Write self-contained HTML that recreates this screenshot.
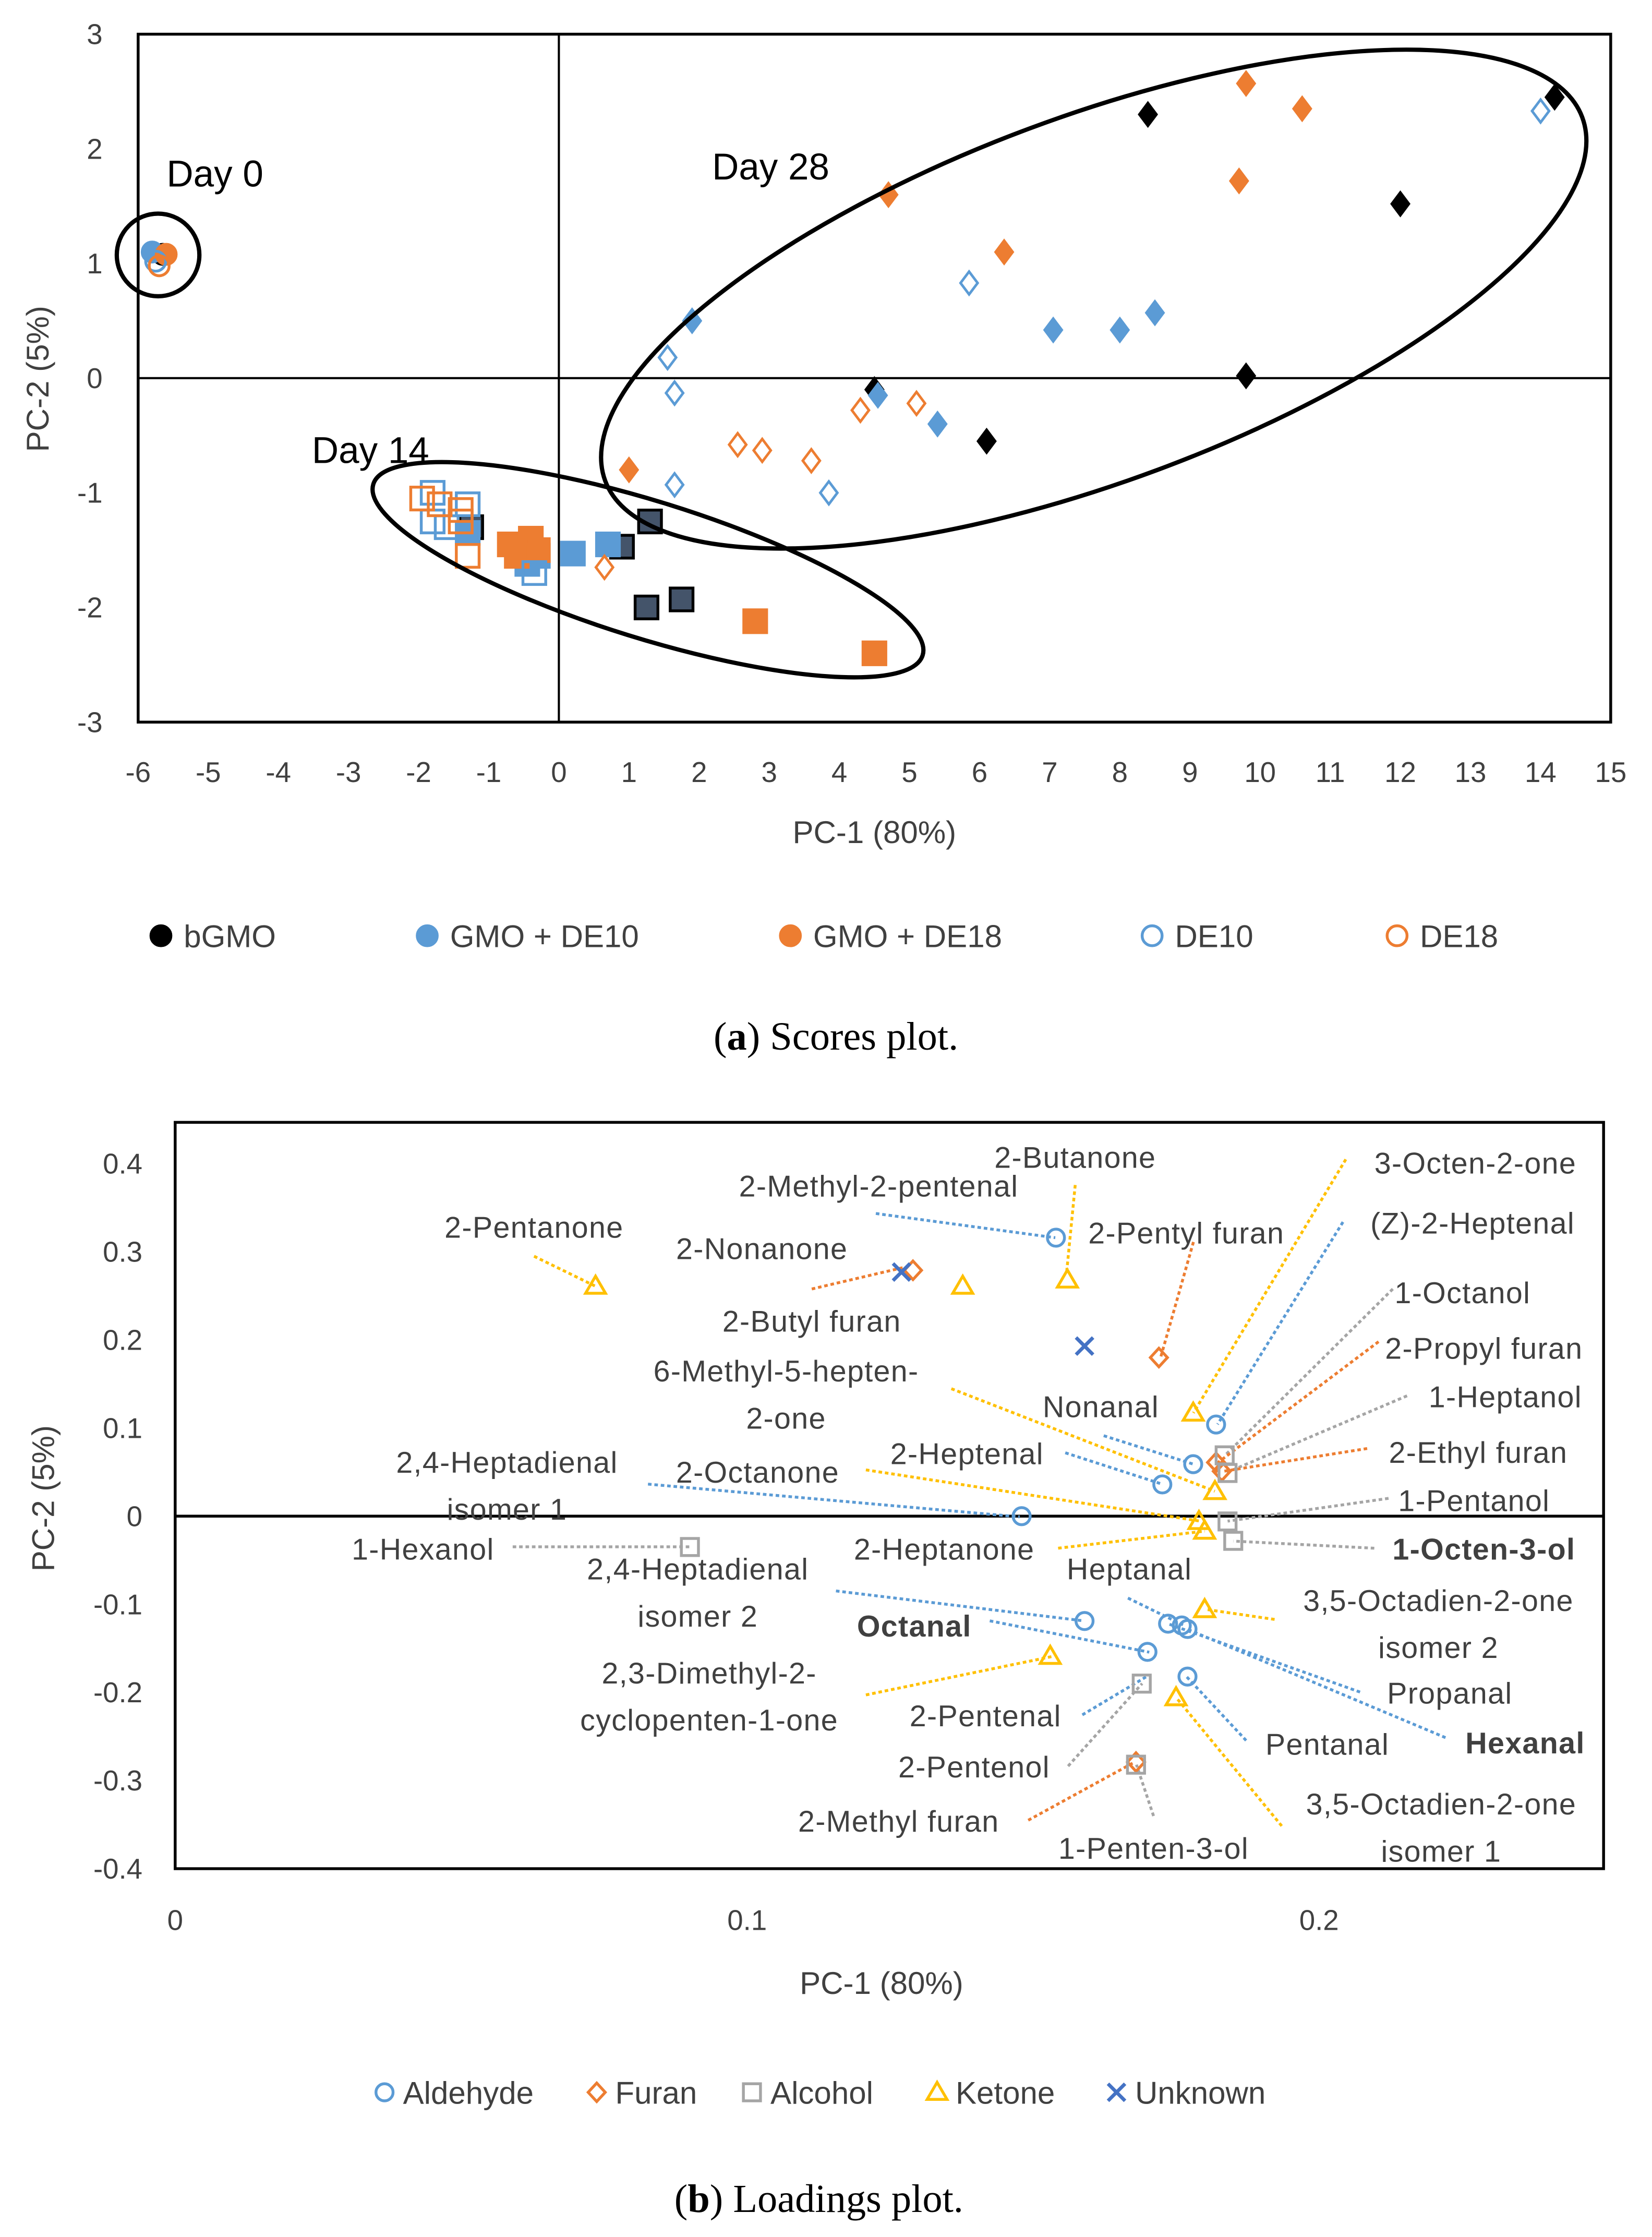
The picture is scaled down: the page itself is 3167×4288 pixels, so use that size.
<!DOCTYPE html>
<html><head><meta charset="utf-8"><style>
html,body{margin:0;padding:0;background:#fff}
svg{display:block}
text{font-family:"Liberation Sans","DejaVu Sans",sans-serif;fill:#404040}
.cap{font-family:"Liberation Serif",serif;fill:#000}
</style></head><body>
<svg id="fig" xmlns="http://www.w3.org/2000/svg" width="3167" height="4288" viewBox="0 0 1160 1570.6" preserveAspectRatio="none">
<g id="pa"></g>
<g id="pb"></g>
<text class="cap" x="587" y="737" font-size="28" text-anchor="middle">(<tspan font-weight="bold">a</tspan>) Scores plot.</text>
<text class="cap" x="575" y="1553" font-size="28" text-anchor="middle">(<tspan font-weight="bold">b</tspan>) Loadings plot.</text>
</svg>
<script>
// ===== Scores plot data =====
const xTicksA = [-6,-5,-4,-3,-2,-1,0,1,2,3,4,5,6,7,8,9,10,11,12,13,14,15];
const yTicksA = [3,2,1,0,-1,-2,-3];
const seriesNames = ["bGMO","GMO + DE10","GMO + DE18","DE10","DE18"];
const bgmoD0X=[-5.65], bgmoD0Y=[1.08];
const bgmoD14X=[1.3,0.9,1.25,1.75,-1.25], bgmoD14Y=[-1.25,-1.47,-2.0,-1.93,-1.3];
const bgmoD28X=[8.4,14.2,12.0,9.8,4.5,6.1], bgmoD28Y=[2.3,2.45,1.52,0.02,-0.1,-0.55];
const de10gD0X=[-5.8], de10gD0Y=[1.1];
const de10gD14X=[0.7,0.2,-0.3,-0.45,-1.3], de10gD14Y=[-1.45,-1.53,-1.55,-1.62,-1.35];
const de10gD28X=[1.9,4.55,5.4,7.05,8.0,8.5], de10gD28Y=[0.5,-0.15,-0.4,0.42,0.42,0.57];
const de18gD0X=[-5.6], de18gD0Y=[1.08];
const de18gD14X=[-0.7,-0.4,-0.3,-0.6,2.8,4.5], de18gD14Y=[-1.45,-1.4,-1.5,-1.55,-2.12,-2.4];
const de18gD28X=[1.0,4.7,6.35,9.7,9.8,10.6], de18gD28Y=[-0.8,1.6,1.1,1.72,2.57,2.35];
const de10D0X=[-5.75], de10D0Y=[1.02];
const de10D14X=[-1.8,-1.6,-1.8,-0.35,-1.3], de10D14Y=[-1.25,-1.3,-1.0,-1.7,-1.1];
const de10D28X=[1.55,1.65,1.65,3.85,5.85,14.0], de10D28Y=[0.18,-0.13,-0.93,-1.0,0.83,2.33];
const de18D0X=[-5.7], de18D0Y=[0.98];
const de18D14X=[-1.95,-1.7,-1.4,-1.3,-1.4], de18D14Y=[-1.05,-1.1,-1.15,-1.55,-1.25];
const de18D28X=[2.55,2.9,3.6,4.3,5.1,0.65], de18D28Y=[-0.58,-0.63,-0.72,-0.28,-0.22,-1.65];

// ===== Loadings plot data =====
const xTicksB=[0,0.1,0.2];
const yTicksB=[0.4,0.3,0.2,0.1,0,-0.1,-0.2,-0.3,-0.4];
const categories=["Aldehyde","Furan","Alcohol","Ketone","Unknown"];
const aldX=[0.154,0.182,0.178,0.1726,0.148,0.159,0.1736,0.176,0.177,0.170,0.177];
const aldY=[0.316,0.104,0.059,0.036,0.0,-0.119,-0.122,-0.124,-0.128,-0.154,-0.182];
const furX=[0.129,0.172,0.182,0.183,0.168];
const furY=[0.279,0.180,0.061,0.051,-0.279];
const alcX=[0.090,0.1835,0.184,0.184,0.185,0.169,0.168];
const alcY=[-0.035,0.069,0.049,-0.006,-0.028,-0.19,-0.282];
const ketX=[0.0735,0.1377,0.156,0.178,0.1818,0.179,0.18,0.180,0.153,0.175];
const ketY=[0.261,0.261,0.268,0.117,0.028,-0.006,-0.017,-0.106,-0.159,-0.206];
const unkX=[0.127,0.159];
const unkY=[0.277,0.193];

const NS="http://www.w3.org/2000/svg";
function mk(tag,parent,attrs){const e=document.createElementNS(NS,tag);for(const k in attrs)e.setAttribute(k,attrs[k]);parent.appendChild(e);return e;}

// ---------- Plot A ----------
const pa=document.getElementById('pa');
const AX0=97,AX1=1131,AY0=24,AY1=507;
const sxA=v=>AX0+(v-(-6))*(AX1-AX0)/21;
const syA=v=>AY0+(3-v)*(AY1-AY0)/6;
let fr=mk('rect',pa,{x:AX0,y:AY0,width:AX1-AX0,height:AY1-AY0,fill:'none',stroke:'#000','stroke-width':2});

let l=mk('line',pa,{x1:sxA(0),x2:sxA(0),y1:AY0,y2:AY1,stroke:'#000','stroke-width':1.5});

l=mk('line',pa,{x1:AX0,x2:AX1,y1:syA(0),y2:syA(0),stroke:'#000','stroke-width':1.5});

xTicksA.forEach(v=>{const t=mk('text',pa,{x:sxA(v),y:549,'font-size':20,'text-anchor':'middle'});t.textContent=v;
});
yTicksA.forEach(v=>{const t=mk('text',pa,{x:72,y:syA(v)+7,'font-size':20,'text-anchor':'end'});t.textContent=v;
});
let t=mk('text',pa,{x:614,y:592,'font-size':22,'text-anchor':'middle'});t.textContent='PC-1 (80%)';

t=mk('text',pa,{x:0,y:0,'font-size':22,'text-anchor':'middle',transform:'translate(34,266) rotate(-90)'});t.textContent='PC-2 (5%)';


function markerA(shape,x,y,fill,stroke,parent){
  let e;
  if(shape==='circle'){e=mk('circle',parent,{cx:x,cy:y,r:7,fill:fill,stroke:stroke,'stroke-width':2});}
  else if(shape==='square'){e=mk('rect',parent,{x:x-8,y:y-8,width:16,height:16,fill:fill,stroke:stroke,'stroke-width':2});}
  else {e=mk('polygon',parent,{points:`${x},${y-8} ${x+6},${y} ${x},${y+8} ${x-6},${y}`,fill:fill,stroke:stroke,'stroke-width':1.8});}
  return e;
}
const BLUE='#5B9BD5',ORANGE='#ED7D31';
const groups=[
 ['bgmo',[[bgmoD0X,bgmoD0Y,'circle','#000','#000'],[bgmoD14X,bgmoD14Y,'square','#44546A','#000'],[bgmoD28X,bgmoD28Y,'diamond','#000','#000']]],
 ['gmo-de10',[[de10gD0X,de10gD0Y,'circle',BLUE,BLUE],[de10gD14X,de10gD14Y,'square',BLUE,BLUE],[de10gD28X,de10gD28Y,'diamond',BLUE,BLUE]]],
 ['gmo-de18',[[de18gD0X,de18gD0Y,'circle',ORANGE,ORANGE],[de18gD14X,de18gD14Y,'square',ORANGE,ORANGE],[de18gD28X,de18gD28Y,'diamond',ORANGE,ORANGE]]],
 ['de10',[[de10D0X,de10D0Y,'circle','none',BLUE],[de10D14X,de10D14Y,'square','none',BLUE],[de10D28X,de10D28Y,'diamond','none',BLUE]]],
 ['de18',[[de18D0X,de18D0Y,'circle','none',ORANGE],[de18D14X,de18D14Y,'square','none',ORANGE],[de18D28X,de18D28Y,'diamond','none',ORANGE]]]
];
groups.forEach(([name,sets])=>{
  const g=mk('g',pa,{});
  
  
  sets.forEach(([xs,ys,shape,fill,stroke])=>{
    xs.forEach((xv,i)=>{const m=markerA(shape,sxA(xv),syA(ys[i]),fill,stroke,g);
      
      });
  });
});
// ellipses
let el=mk('circle',pa,{cx:111,cy:179,r:29,fill:'none',stroke:'#000','stroke-width':3});

el=mk('ellipse',pa,{cx:768,cy:210,rx:366,ry:128,fill:'none',stroke:'#000','stroke-width':3,transform:'rotate(-20.4 768 210)'});

el=mk('ellipse',pa,{cx:455,cy:400,rx:202,ry:48,fill:'none',stroke:'#000','stroke-width':3,transform:'rotate(17.3 455 400)'});

[['Day 0',117,131,'day0-label'],['Day 28',500,126,'day28-label'],['Day 14',219,325,'day14-label']].forEach(([s,x,y,n])=>{
  const tt=mk('text',pa,{x:x,y:y,'font-size':26});tt.style.fill='#000';tt.textContent=s;
  });
// legend A
const legA=[[113,'#000','#000'],[300,BLUE,BLUE],[555,ORANGE,ORANGE],[809,'none',BLUE],[981,'none',ORANGE]];
legA.forEach(([x,f,s],i)=>{
  const g=mk('g',pa,{});
  
  
  mk('circle',g,{cx:x,cy:657,r:7,fill:f,stroke:s,'stroke-width':2});
  const tt=mk('text',g,{x:x+16,y:665,'font-size':22});tt.textContent=seriesNames[i];
});

// ---------- Plot B ----------
const pb=document.getElementById('pb');
const BX0=123,BX1=1126,BY0=788,BY1=1312;
const sxB=v=>BX0+v*4016;
const syB=v=>1064.5-v*618.75;
fr=mk('rect',pb,{x:BX0,y:BY0,width:BX1-BX0,height:BY1-BY0,fill:'none',stroke:'#000','stroke-width':2});

l=mk('line',pb,{x1:BX0,x2:BX1,y1:syB(0),y2:syB(0),stroke:'#000','stroke-width':2});

xTicksB.forEach(v=>{const tt=mk('text',pb,{x:sxB(v),y:1355,'font-size':20,'text-anchor':'middle'});tt.textContent=v;
});
yTicksB.forEach(v=>{const tt=mk('text',pb,{x:100,y:syB(v)+7,'font-size':20,'text-anchor':'end'});tt.textContent=v.toFixed(1).replace('0.0','0').replace('-0.0','0');
if(v===0)tt.textContent='0';
});
t=mk('text',pb,{x:619,y:1400,'font-size':22,'text-anchor':'middle'});t.textContent='PC-1 (80%)';

t=mk('text',pb,{x:0,y:0,'font-size':22,'text-anchor':'middle',transform:'translate(38,1052) rotate(-90)'});t.textContent='PC-2 (5%)';


const CB='#5B9BD5',CO='#ED7D31',CG='#A5A5A5',CY='#FFC000',CU='#4472C4';
// leader lines + labels [text lines, x, y(first baseline), anchor, fromX, fromY, toX, toY, color, bold]
const labels=[
 [['2-Butanone'],755,820,'middle',755,832,749,893,CY],
 [['2-Methyl-2-pentenal'],617,840,'middle',615,852,741,869,CB],
 [['2-Pentanone'],375,869,'middle',375,882,418,903,CY],
 [['2-Nonanone'],535,884,'middle',570,905,634,890,CO],
 [['2-Pentyl furan'],833,873,'middle',838,872,815,953,CO],
 [['3-Octen-2-one'],1036,824,'middle',945,814,838,992,CY],
 [['(Z)-2-Heptenal'],1034,866,'middle',943,858,855,1000,CB],
 [['1-Octanol'],1027,915,'middle',978,905,860,1022,CG],
 [['2-Butyl furan'],570,935,'middle',0,0,0,0,CO],
 [['2-Propyl furan'],1042,954,'middle',968,942,855,1027,CO],
 [['1-Heptanol'],1057,988,'middle',988,980,861,1034,CG],
 [['6-Methyl-5-hepten-','2-one'],552,970,'middle',668,975,853,1047,CY],
 [['Nonanal'],773,995,'middle',775,1008,838,1028,CB],
 [['2-Ethyl furan'],1038,1027,'middle',960,1017,859,1033,CO],
 [['2-Heptenal'],679,1028,'middle',748,1020,816,1042,CB],
 [['2,4-Heptadienal','isomer 1'],356,1034,'middle',455,1042,716,1065,CB],
 [['2-Octanone'],532,1041,'middle',608,1032,843,1068,CY],
 [['1-Pentanol'],1035,1061,'middle',975,1052,862,1068,CG],
 [['1-Hexanol'],297,1095,'middle',360,1086,486,1086,CG],
 [['2-Heptanone'],663,1095,'middle',743,1087,846,1075,CY],
 [['1-Octen-3-ol'],1042,1095,'middle',965,1087,866,1082,CG,1],
 [['2,4-Heptadienal','isomer 2'],490,1109,'middle',587,1117,761,1138,CB],
 [['Heptanal'],793,1109,'middle',792,1122,831,1141,CB],
 [['3,5-Octadien-2-one','isomer 2'],1010,1131,'middle',895,1137,847,1130,CY],
 [['Octanal'],642,1149,'middle',695,1138,807,1160,CB,1],
 [['Propanal'],1018,1196,'middle',955,1188,820,1140,CB],
 [['2,3-Dimethyl-2-','cyclopenten-1-one'],498,1182,'middle',608,1190,739,1163,CY],
 [['2-Pentenal'],692,1212,'middle',760,1204,807,1176,CB],
 [['Pentanal'],932,1232,'middle',875,1222,833,1177,CB],
 [['Hexanal'],1071,1231,'middle',1015,1220,834,1144,CB,1],
 [['2-Pentenol'],684,1248,'middle',750,1240,802,1182,CG],
 [['3,5-Octadien-2-one','isomer 1'],1012,1274,'middle',900,1282,826,1192,CY],
 [['2-Methyl furan'],631,1286,'middle',722,1278,797,1237,CO],
 [['1-Penten-3-ol'],810,1305,'middle',810,1275,798,1239,CG]
];
labels.forEach(lb=>{
  const [lines,x,y,anc,fx,fy,tx,ty,c,b]=lb;
  if(fx){const ln=mk('line',pb,{x1:fx,y1:fy,x2:tx,y2:ty,stroke:c,'stroke-width':2,'stroke-dasharray':'2.5 2'});
    }
  const tt=mk('text',pb,{x:x,y:y,'font-size':21,'text-anchor':anc,'letter-spacing':'0.5'});
  if(b)tt.setAttribute('font-weight','bold');
  lines.forEach((s,i)=>{const sp=mk('tspan',tt,{x:x,y:y+i*33});sp.textContent=s;});
  
  
});
function markerB(kind,x,y,parent,big){
  const r=big?1:1;let e;
  if(kind==='Aldehyde')e=mk('circle',parent,{cx:x,cy:y,r:6,fill:'none',stroke:CB,'stroke-width':2});
  else if(kind==='Furan')e=mk('polygon',parent,{points:`${x},${y-6.5} ${x+6},${y} ${x},${y+6.5} ${x-6},${y}`,fill:'none',stroke:CO,'stroke-width':2});
  else if(kind==='Alcohol')e=mk('rect',parent,{x:x-6,y:y-6,width:12,height:12,fill:'none',stroke:CG,'stroke-width':2});
  else if(kind==='Ketone')e=mk('polygon',parent,{points:`${x},${y-7} ${x+7},${y+5} ${x-7},${y+5}`,fill:'none',stroke:CY,'stroke-width':2});
  else {e=mk('path',parent,{d:`M${x-6},${y-6}L${x+6},${y+6}M${x+6},${y-6}L${x-6},${y+6}`,stroke:CU,'stroke-width':2.5,fill:'none'});}
  return e;
}
const catData=[['Aldehyde',aldX,aldY],['Furan',furX,furY],['Alcohol',alcX,alcY],['Ketone',ketX,ketY],['Unknown',unkX,unkY]];
catData.forEach(([k,xs,ys])=>{
  const g=mk('g',pb,{});
  
  
  xs.forEach((xv,i)=>{const m=markerB(k,sxB(xv),syB(ys[i]),g);
    
    });
});
// legend B
const legBX=[270,419,528,658,784];
categories.forEach((c,i)=>{
  const g=mk('g',pb,{});
  
  
  markerB(c,legBX[i],1469,g);
  const tt=mk('text',g,{x:legBX[i]+13,y:1477,'font-size':22});tt.textContent=c;
});
</script>
</body></html>
